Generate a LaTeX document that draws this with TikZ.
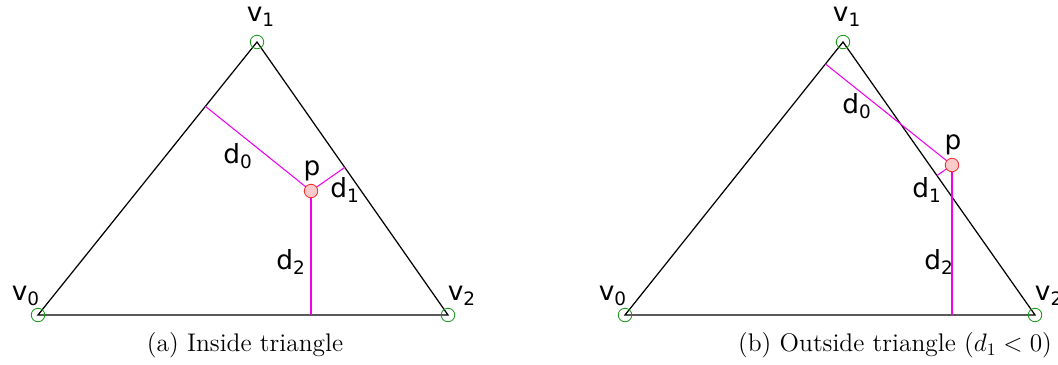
\documentclass[tikz,border=0pt]{standalone}
\usepackage{fontspec}
\newfontfamily\lblfont{DejaVu Sans}
\usetikzlibrary{calc}
\definecolor{vgreen}{HTML}{1A9A1A}
\definecolor{pred}{HTML}{F03030}
\definecolor{dmag}{HTML}{F000F0}
\tikzset{
  edge/.style={black,line width=0.7pt},
  dist/.style={dmag,line width=0.6pt},
  vert/.style={circle,draw=vgreen,line width=0.5pt,minimum size=0.27cm,inner sep=0pt},
  pt/.style={circle,draw=pred,fill=pred!25,line width=0.5pt,minimum size=0.27cm,inner sep=0pt},
  lbl/.style={font=\lblfont\fontsize{15}{18}\selectfont,inner sep=0pt},
  capt/.style={font=\fontsize{14.5}{17}\selectfont,inner sep=0pt}
}

\begin{document}
\begin{tikzpicture}[x=0.02cm,y=-0.02cm]
    \useasboundingbox (0,0) rectangle (1058,365);

    % (a) p inside
    \coordinate (a-v0) at (38,315);
    \coordinate (a-v1) at (257,42);
    \coordinate (a-v2) at (448,315);
    \coordinate (a-p) at (311,191);
    \coordinate (a-f0) at ($(a-v0)!(a-p)!(a-v1)$);
    \coordinate (a-f1) at ($(a-v1)!(a-p)!(a-v2)$);
    \coordinate (a-f2) at ($(a-v2)!(a-p)!(a-v0)$);
    \draw[edge] (a-v0) -- (a-v1) -- (a-v2) -- cycle;
    \draw[dist] (a-p) -- (a-f0);
    \draw[dist] (a-p) -- (a-f1);
    \draw[dist] (a-p) -- (a-f2);
    \node[vert] (a-c0) at (a-v0) {};
    \node[vert] (a-c1) at (a-v1) {};
    \node[vert] (a-c2) at (a-v2) {};
    \node[pt] (a-cp) at (a-p) {};
    \node[lbl] (a-l0) at (26,296) {v\textsubscript{0}};
    \node[lbl] (a-l1) at (261,17) {v\textsubscript{1}};
    \node[lbl] (a-l2) at (462,296) {v\textsubscript{2}};
    \node[lbl] (a-lp) at (312,171) {p};
    \node[lbl] (a-d0) at (238,156) {d\textsubscript{0}};
    \node[lbl] (a-d1) at (345,190) {d\textsubscript{1}};
    \node[lbl] (a-d2) at (291,262) {d\textsubscript{2}};
    \node[capt] (a-cap) at (245,345) {(a) Inside triangle};

    % (b) p outside
    \coordinate (b-v0) at (625,315);
    \coordinate (b-v1) at (843,42);
    \coordinate (b-v2) at (1035,315);
    \coordinate (b-p) at (952,165);
    \coordinate (b-f0) at ($(b-v0)!(b-p)!(b-v1)$);
    \coordinate (b-f1) at ($(b-v1)!(b-p)!(b-v2)$);
    \coordinate (b-f2) at ($(b-v2)!(b-p)!(b-v0)$);
    \draw[edge] (b-v0) -- (b-v1) -- (b-v2) -- cycle;
    \draw[dist] (b-p) -- (b-f0);
    \draw[dist] (b-p) -- (b-f1);
    \draw[dist] (b-p) -- (b-f2);
    \node[vert] (b-c0) at (b-v0) {};
    \node[vert] (b-c1) at (b-v1) {};
    \node[vert] (b-c2) at (b-v2) {};
    \node[pt] (b-cp) at (b-p) {};
    \node[lbl] (b-l0) at (613,296) {v\textsubscript{0}};
    \node[lbl] (b-l1) at (847,17) {v\textsubscript{1}};
    \node[lbl] (b-l2) at (1049,296) {v\textsubscript{2}};
    \node[lbl] (b-lp) at (953,145) {p};
    \node[lbl] (b-d0) at (857,106) {d\textsubscript{0}};
    \node[lbl] (b-d1) at (927,190) {d\textsubscript{1}};
    \node[lbl] (b-d2) at (939,262) {d\textsubscript{2}};
    \node[capt] (b-cap) at (895,345) {(b) Outside triangle ($d_1 < 0$)};
\end{tikzpicture}
\end{document}
